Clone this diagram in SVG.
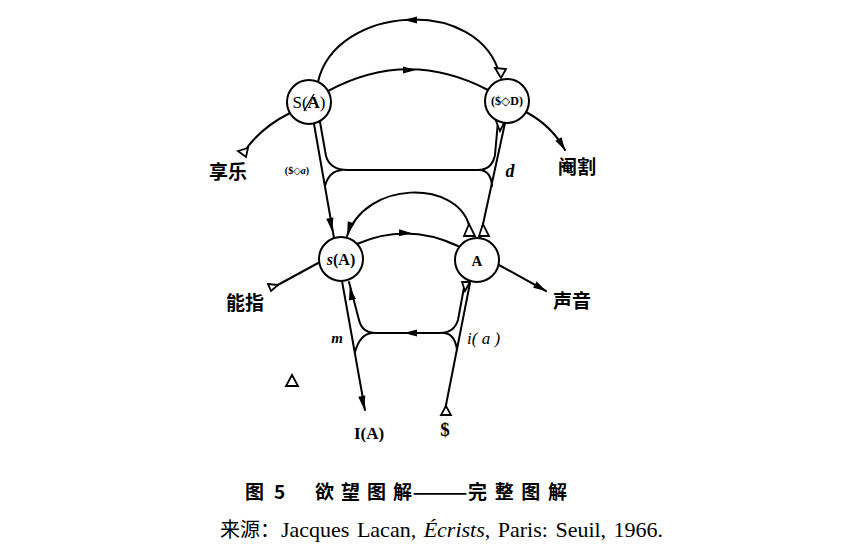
<svg xmlns="http://www.w3.org/2000/svg" width="842" height="549" viewBox="0 0 842 549">
<style>
.ln{fill:none;stroke:#000;stroke-width:2;stroke-linecap:round;stroke-linejoin:round}
.nd{fill:#fff;stroke:#000;stroke-width:2}
.tri{fill:#fff;stroke:#000;stroke-width:1.8;stroke-linejoin:miter}
.ser{font-family:"Liberation Serif","DejaVu Serif",serif;fill:#000}
.cjk{font-family:"Noto Sans CJK SC","Noto Sans",sans-serif;font-weight:bold;fill:#000}
</style>
<defs>
<path id="ah" d="M6,0 L-7,-3.6 L-7,3.6 z" fill="#000"/>
</defs>
<rect width="842" height="549" fill="#fff"/>
<g id="connectors">
<path class="ln" d="M318,82 C335,5 480,-5 500,76"/>
<path class="ln" d="M328,91 Q408,48 488,90"/>
<path class="ln" d="M290,113 Q262,127 246,149"/>
<path class="ln" d="M526,112 Q552,126 565,150"/>
<path class="ln" d="M314,124 L334,238"/>
<path class="ln" d="M320,122 L326,156 Q330,170 348,170 L478,170 Q492,170 495,155 L498,121"/>
<path class="ln" d="M342,170 Q329,171 325,186"/>
<path class="ln" d="M480,170 Q491,171 492,186"/>
<path class="ln" d="M505,123 L480,238"/>
<path class="ln" d="M469,225 C456,180 366,180 347,236"/>
<path class="ln" d="M357,244 Q407,222 458,246"/>
<path class="ln" d="M320,262 L274,287"/>
<path class="ln" d="M499,265 L546,291"/>
<path class="ln" d="M342,281 L365,410"/>
<path class="ln" d="M465,282 L458,320 Q454,333 440,333 L376,333 Q362,333 359,320 L349,282"/>
<path class="ln" d="M372,333 Q360,334 355,352"/>
<path class="ln" d="M444,333 Q455,334 457,350"/>
<path class="ln" d="M470,283 L445,410"/>
<use href="#ah" transform="translate(410,20) rotate(180)"/>
<use href="#ah" transform="translate(410,70)"/>
<use href="#ah" transform="translate(331,225) rotate(80.5)"/>
<use href="#ah" transform="translate(562,145) rotate(60)"/>
<use href="#ah" transform="translate(349,229) rotate(108)"/>
<use href="#ah" transform="translate(406,233) rotate(2)"/>
<use href="#ah" transform="translate(541,288) rotate(29.5)"/>
<use href="#ah" transform="translate(363,403) rotate(80)"/>
<use href="#ah" transform="translate(351,293) rotate(-102)"/>
<use href="#ah" transform="translate(410,333) rotate(180)"/>
<polygon class="tri" points="495,68 506,69 501,78"/>
<polygon class="tri" points="238,151 248,148 246,157"/>
<polygon class="tri" points="268,284 278,285 271,291"/>
<polygon class="tri" points="469,224 464,236 475,236"/>
<polygon class="tri" points="483,224 479,236 489,236"/>
<polygon class="tri" points="496,121 505,121 500,131"/>
<polygon class="tri" points="462,282 470,282 465,291"/>
<polygon class="tri" points="446,406 441,415 451,415"/>
<polygon class="tri" points="292,375 286,386 298,386"/>
</g>
<g id="node-SA">
<circle class="nd" cx="309" cy="102" r="22"/>
<text class="ser" x="309" y="108" font-size="17" text-anchor="middle">S(<tspan font-weight="bold">A</tspan>)</text>
<line x1="304" y1="111" x2="314" y2="94" stroke="#000" stroke-width="1.4"/>
</g>
<g id="node-SD">
<circle class="nd" cx="507" cy="101" r="22"/>
<text class="ser" x="507" y="105" font-size="12" font-weight="bold" text-anchor="middle">($◇D)</text>
</g>
<g id="node-sA">
<circle class="nd" cx="341" cy="259" r="22"/>
<text class="ser" x="341" y="265" font-size="16" font-weight="bold" text-anchor="middle"><tspan font-style="italic">s</tspan>(A)</text>
</g>
<g id="node-A">
<circle class="nd" cx="477" cy="260" r="22"/>
<text class="ser" x="477" y="266" font-size="15" font-weight="bold" text-anchor="middle">A</text>
</g>
<g id="labels">
<text class="cjk" x="228" y="179" font-size="19" text-anchor="middle">享乐</text>
<text class="cjk" x="577" y="174" font-size="19" text-anchor="middle">阉割</text>
<text class="cjk" x="245" y="310" font-size="19" text-anchor="middle">能指</text>
<text class="cjk" x="572" y="308" font-size="19" text-anchor="middle">声音</text>
<text class="ser" x="297" y="174" font-size="10" font-weight="bold" text-anchor="middle">($◇<tspan font-style="italic">a</tspan>)</text>
<text class="ser" x="510" y="177" font-size="18" font-weight="bold" font-style="italic" text-anchor="middle">d</text>
<text class="ser" x="337" y="343" font-size="15" font-weight="bold" font-style="italic" text-anchor="middle">m</text>
<text class="ser" x="467" y="344" font-size="17" font-style="italic">i( a )</text>
<text class="ser" x="369" y="439" font-size="17" font-weight="bold" text-anchor="middle">I(A)</text>
<text class="ser" x="445" y="436" font-size="19" font-weight="bold" text-anchor="middle">$</text>
</g>
<g id="caption">
<text class="cjk" font-size="19" font-weight="500" y="499"><tspan x="245">图</tspan><tspan x="274">5</tspan><tspan x="315" textLength="97" lengthAdjust="spacing">欲望图解</tspan><tspan x="412" textLength="56" lengthAdjust="spacingAndGlyphs">——</tspan><tspan x="468" textLength="99" lengthAdjust="spacing">完整图解</tspan></text>
<text class="ser" y="537" font-size="22"><tspan x="220" font-size="20" font-family="'Noto Sans CJK SC',serif">来源：</tspan><tspan x="281" word-spacing="2">Jacques Lacan, <tspan font-style="italic">Écrists</tspan>, Paris: Seuil, 1966.</tspan></text>
</g>
</svg>
